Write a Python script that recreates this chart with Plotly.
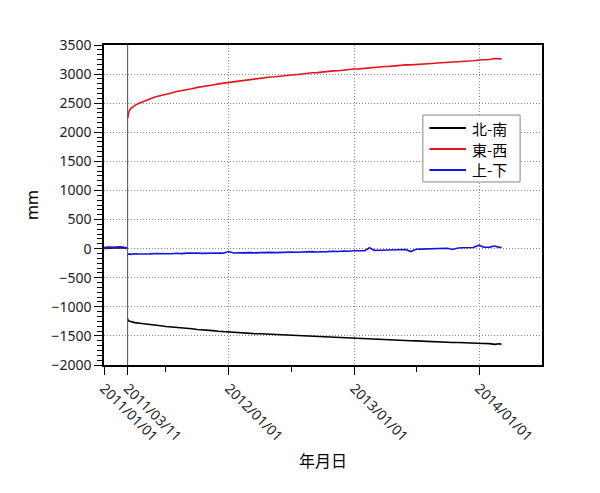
import plotly.graph_objects as go

# ---- data ----
pre_dates = ["2011-01-01", "2011-01-15", "2011-02-01", "2011-02-15", "2011-03-01", "2011-03-10"]
pre_ns = [5, 12, 8, 15, 10, 5]
pre_ew = [15, 22, 18, 26, 16, 10]
pre_ud = [18, 28, 20, 30, 22, 12]

post_dates = [
    "2011-03-11", "2011-03-12", "2011-03-15", "2011-03-20",
    "2011-04-01", "2011-04-15", "2011-05-01", "2011-05-15", "2011-06-01", "2011-06-15",
    "2011-07-01", "2011-07-15", "2011-08-01", "2011-08-15", "2011-09-01", "2011-09-15",
    "2011-10-01", "2011-10-15", "2011-11-01", "2011-11-15", "2011-12-01", "2011-12-15",
    "2012-01-01", "2012-01-15", "2012-02-01", "2012-02-15", "2012-03-01", "2012-03-15",
    "2012-04-01", "2012-04-15", "2012-05-01", "2012-05-15", "2012-06-01", "2012-06-15",
    "2012-07-01", "2012-07-15", "2012-08-01", "2012-08-15", "2012-09-01", "2012-09-15",
    "2012-10-01", "2012-10-15", "2012-11-01", "2012-11-15", "2012-12-01", "2012-12-15",
    "2013-01-01", "2013-01-15", "2013-02-01", "2013-02-15", "2013-03-01", "2013-03-15",
    "2013-04-01", "2013-04-15", "2013-05-01", "2013-05-15", "2013-06-01", "2013-06-15",
    "2013-07-01", "2013-07-15", "2013-08-01", "2013-08-15", "2013-09-01", "2013-09-15",
    "2013-10-01", "2013-10-15", "2013-11-01", "2013-11-15", "2013-12-01", "2013-12-15",
    "2014-01-01", "2014-01-15", "2014-02-01", "2014-02-15", "2014-03-01", "2014-03-08",
]

ns_values = [
    -1198, -1228, -1246, -1256,
    -1272, -1283, -1297, -1304, -1319, -1324,
    -1337, -1342, -1354, -1359, -1371, -1376,
    -1389, -1393, -1405, -1409, -1421, -1427,
    -1438, -1442, -1449, -1452, -1459, -1461,
    -1464, -1468, -1472, -1477, -1479, -1484,
    -1486, -1492, -1494, -1500, -1503, -1509,
    -1513, -1520, -1524, -1530, -1533, -1539,
    -1542, -1545, -1551, -1553, -1559, -1562,
    -1566, -1568, -1573, -1576, -1579, -1583,
    -1585, -1590, -1592, -1597, -1599, -1605,
    -1606, -1612, -1614, -1619, -1621, -1624,
    -1626, -1631, -1632, -1645, -1636, -1642,
]

ew_values = [
    2240, 2300, 2362, 2408,
    2462, 2503, 2546, 2572, 2612, 2628,
    2656, 2672, 2702, 2713, 2737, 2748,
    2772, 2782, 2802, 2812, 2832, 2843,
    2862, 2868, 2887, 2893, 2910, 2918,
    2932, 2936, 2950, 2954, 2968, 2970,
    2985, 2990, 3004, 3006, 3022, 3026,
    3040, 3042, 3055, 3058, 3070, 3074,
    3088, 3090, 3102, 3105, 3116, 3119,
    3131, 3133, 3145, 3147, 3158, 3158,
    3168, 3171, 3180, 3183, 3190, 3194,
    3200, 3204, 3212, 3215, 3226, 3230,
    3242, 3246, 3252, 3268, 3256, 3262,
]

ud_values = [
    -100, -95, -90, -98,
    -88, -93, -85, -90, -84, -89,
    -82, -87, -80, -85, -78, -83,
    -77, -81, -76, -79, -74, -78,
    -50, -75, -70, -74, -68, -72,
    -66, -70, -64, -68, -62, -66,
    -60, -63, -55, -60, -52, -57,
    -48, -52, -45, -49, -40, -44,
    -36, -40, -34, 15, -30, -28,
    -25, -27, -20, -22, -15, -50,
    -10, -8, -5, -6, 0, 2,
    6, -15, 12, 14, 18, 20,
    60, 24, 26, 45, 22, 24,
]

quake_date = "2011-03-11"
tick_vals = ["2011-01-01", "2011-03-11", "2012-01-01", "2013-01-01", "2014-01-01"]
tick_text = ["2011/01/01", "2011/03/11", "2012/01/01", "2013/01/01", "2014/01/01"]
minor_tick_vals = ["2011-07-01", "2012-07-01", "2013-07-01"]
series_names = ["北-南", "東-西", "上-下"]
series_colors = ["#000000", "#e8141c", "#1414e0"]

x_all = pre_dates + [None] + post_dates
series = [
    pre_ns + [None] + ns_values,
    pre_ew + [None] + ew_values,
    pre_ud + [None] + ud_values,
]

fig = go.Figure()
for name, color, ys in zip(series_names, series_colors, series):
    fig.add_trace(go.Scatter(
        x=x_all, y=ys, mode="lines", name=name,
        line=dict(color=color, width=1.6),
        connectgaps=False, showlegend=False,
    ))

fig.add_vline(x=quake_date, line=dict(color="#555555", width=1))

# ---- legend box (drawn in plot-area fractions) ----
cjk_font = "Noto Sans CJK JP, sans-serif"
leg_x0, leg_x1, leg_y0, leg_y1 = 0.728, 0.950, 0.572, 0.781
fig.add_shape(type="rect", xref="paper", yref="paper",
              x0=leg_x0, x1=leg_x1, y0=leg_y0, y1=leg_y1,
              line=dict(color="#888888", width=1), fillcolor="white", layer="above")
row_y = [0.7406, 0.6750, 0.6094]
for name, color, yy in zip(series_names, series_colors, row_y):
    fig.add_shape(type="line", xref="paper", yref="paper",
                  x0=0.743, x1=0.8265, y0=yy, y1=yy,
                  line=dict(color=color, width=2), layer="above")
    fig.add_annotation(xref="paper", yref="paper", x=0.836, y=yy,
                       text=name, showarrow=False, xanchor="left", yanchor="middle",
                       font=dict(size=15, family=cjk_font, color="#000"))

base_font = "Noto Sans, Noto Sans CJK JP, sans-serif"
# page body has an 8px default margin, so the figure is 8px smaller than the window
fig.update_layout(
    width=592, height=485,
    margin=dict(l=96, r=58, t=37, b=128, autoexpand=False),
    paper_bgcolor="white", plot_bgcolor="white",
    font=dict(family=base_font, size=14, color="#222"),
    showlegend=False,
)

grid_dash = "1px,2px"
fig.update_xaxes(
    type="date", automargin=False,
    range=["2011-01-01", "2014-07-04"],
    tickmode="array", tickvals=tick_vals, ticktext=tick_text,
    tickangle=45, ticks="outside", ticklen=8, tickwidth=1.2, tickcolor="#000",
    showline=True, linecolor="#000", linewidth=1.5, mirror=True,
    showgrid=True, gridcolor="#888888", griddash=grid_dash, gridwidth=1,
    zeroline=False,
    minor=dict(tickmode="array", tickvals=minor_tick_vals, ticks="outside",
               ticklen=5, tickcolor="#000", showgrid=False),
    title=dict(text="年月日", font=dict(size=16, family=cjk_font, color="#000"),
               standoff=12),
    tickfont=dict(size=14, color="#222"),
)

fig.update_yaxes(
    automargin=False,
    range=[-2000, 3500],
    tickmode="linear", tick0=-2000, dtick=500,
    ticks="outside", ticklen=8, tickwidth=1.2, tickcolor="#000",
    showline=True, linecolor="#000", linewidth=1.5, mirror=True,
    showgrid=True, gridcolor="#888888", griddash=grid_dash, gridwidth=1,
    zeroline=False,
    minor=dict(tick0=-2000, dtick=500 / 6, ticks="outside", ticklen=5,
               tickcolor="#000", showgrid=False),
    title=dict(text="mm", font=dict(size=16, color="#000"), standoff=9),
    tickfont=dict(size=14, color="#222"),
)

fig.write_html("out.html")
